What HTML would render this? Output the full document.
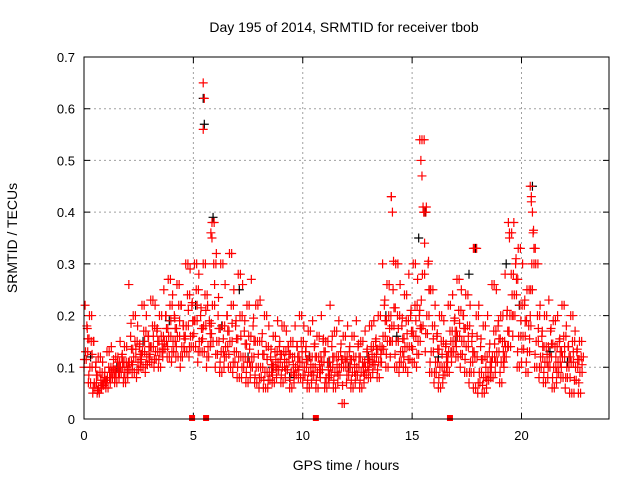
<!DOCTYPE html>
<html><head><meta charset="utf-8"><style>
body{margin:0;background:#fff}
svg{display:block;font-family:"Liberation Sans",sans-serif}
</style></head><body>
<svg id="chart" width="640" height="480" viewBox="0 0 640 480">
<rect width="640" height="480" fill="#fff"/>
<text x="344" y="32" font-size="14" text-anchor="middle" fill="#000">Day 195 of 2014, SRMTID for receiver tbob</text>
<text x="346" y="470" font-size="14" text-anchor="middle" fill="#000">GPS time / hours</text>
<text transform="translate(17,238) rotate(-90)" font-size="14" text-anchor="middle" fill="#000">SRMTID / TECUs</text>
<g id="grid"></g>
<g id="ticks"></g>
<g id="marks"></g>
<rect x="84" y="57" width="525" height="362" fill="none" stroke="#000" stroke-width="1"/>
</svg>
<script>
const xTicks=[0,5,10,15,20];
const yTicks=[0,0.1,0.2,0.3,0.4,0.5,0.6,0.7];
const yTickLabels=["0","0.1","0.2","0.3","0.4","0.5","0.6","0.7"];
const hours=[0,0.2,0.4,0.6,0.8,1,1.2,1.4,1.6,1.8,2,2.2,2.4,2.6,2.8,3,3.2,3.4,3.6,3.8,4,4.2,4.4,4.6,4.8,5,5.2,5.4,5.6,5.8,6,6.2,6.4,6.6,6.8,7,7.2,7.4,7.6,7.8,8,8.2,8.4,8.6,8.8,9,9.2,9.4,9.6,9.8,10,10.2,10.4,10.6,10.8,11,11.2,11.4,11.6,11.8,12,12.2,12.4,12.6,12.8,13,13.2,13.4,13.6,13.8,14,14.2,14.4,14.6,14.8,15,15.2,15.4,15.6,15.8,16,16.2,16.4,16.6,16.8,17,17.2,17.4,17.6,17.8,18,18.2,18.4,18.6,18.8,19,19.2,19.4,19.6,19.8,20,20.2,20.4,20.6,20.8,21,21.2,21.4,21.6,21.8,22,22.2,22.4,22.6];
const redHigh=[.22,.2,.15,.12,.11,.13,.14,.12,.15,.14,.26,.2,.18,.22,.2,.23,.22,.2,.25,.27,.24,.26,.22,.3,.29,.3,.28,.3,.22,.38,.32,.3,.26,.32,.25,.28,.26,.22,.27,.22,.23,.2,.18,.16,.19,.18,.17,.15,.18,.2,.18,.17,.19,.16,.2,.15,.22,.17,.19,.16,.18,.16,.19,.15,.17,.18,.19,.2,.3,.26,.43,.3,.26,.24,.28,.3,.27,.54,.41,.25,.22,.2,.19,.22,.24,.27,.25,.24,.22,.33,.22,.18,.2,.26,.25,.2,.28,.36,.38,.33,.3,.25,.43,.3,.22,.2,.23,.19,.2,.22,.18,.2,.17,.15];
const redMidHigh=[.18,.15,.1,.09,.08,.1,.1,.11,.12,.11,.16,.15,.14,.17,.16,.18,.17,.16,.2,.22,.2,.22,.18,.24,.22,.25,.2,.24,.19,.3,.2,.18,.2,.22,.18,.2,.17,.16,.18,.15,.15,.14,.12,.13,.14,.13,.14,.12,.14,.15,.13,.12,.14,.12,.15,.11,.14,.12,.13,.12,.13,.12,.14,.11,.13,.14,.15,.14,.22,.2,.25,.2,.18,.19,.2,.22,.2,.4,.3,.18,.16,.15,.14,.17,.19,.21,.2,.18,.15,.2,.14,.12,.13,.17,.18,.15,.2,.28,.3,.22,.22,.18,.36,.2,.16,.14,.17,.14,.15,.16,.14,.15,.13,.12];
const redMidLow=[.13,.1,.07,.06,.07,.08,.09,.09,.1,.09,.11,.12,.11,.13,.12,.14,.13,.13,.15,.16,.15,.16,.14,.18,.16,.19,.15,.18,.14,.22,.15,.13,.14,.15,.13,.12,.12,.11,.12,.1,.1,.09,.09,.1,.11,.1,.11,.09,.1,.11,.1,.09,.1,.09,.11,.08,.1,.09,.1,.1,.1,.09,.1,.09,.1,.11,.12,.11,.16,.15,.18,.15,.13,.14,.14,.16,.15,.28,.2,.13,.11,.1,.1,.13,.15,.16,.15,.14,.11,.12,.09,.08,.09,.12,.13,.11,.14,.2,.24,.16,.16,.13,.3,.15,.12,.11,.12,.1,.11,.12,.1,.11,.1,.09];
const redLow=[.1,.07,.05,.05,.06,.06,.07,.07,.08,.07,.08,.09,.08,.1,.09,.11,.1,.1,.12,.12,.11,.12,.1,.13,.12,.14,.11,.13,.1,.15,.1,.09,.1,.1,.09,.08,.08,.07,.08,.07,.06,.06,.06,.07,.08,.07,.08,.06,.07,.08,.07,.06,.07,.06,.08,.06,.07,.06,.07,.03,.07,.06,.07,.06,.07,.08,.09,.08,.11,.1,.12,.1,.09,.1,.09,.11,.1,.18,.13,.09,.07,.06,.07,.09,.11,.12,.1,.09,.07,.06,.05,.05,.06,.08,.09,.07,.1,.14,.16,.1,.11,.09,.2,.1,.08,.07,.08,.06,.07,.08,.06,.05,.05,.05];
const spikeHours=[5.45,5.5,5.45,5.8,5.85,14.05,14.1,15.35,15.4,15.45,15.5,15.55,17.8,19.4,19.45,20.4,20.45,20.5];
const spikeValues=[.65,.62,.56,.36,.35,.43,.4,.54,.5,.47,.41,.4,.33,.38,.35,.45,.42,.4];
const blackHours=[0.3,1.5,2.7,3.9,5.1,5.45,5.5,5.9,6.3,7.1,7.5,8.6,9.4,10.3,11.2,12.1,13.0,13.8,14.3,15.3,15.6,16.2,17.0,17.6,17.9,18.6,19.3,19.9,20.5,21.3,22.1];
const blackValues=[.12,.1,.15,.19,.22,.62,.57,.39,.18,.25,.12,.1,.08,.12,.11,.1,.12,.2,.16,.35,.4,.12,.15,.28,.33,.08,.3,.22,.45,.13,.11];
const zeroHours=[4.94,5.58,10.6,16.73];

const X0=84,X1=609,Y0=419,Y1=57,XMAX=24,YMAX=0.7;
const sx=h=>X0+h/XMAX*(X1-X0);
const sy=v=>Y0-v/YMAX*(Y0-Y1);
const NS="http://www.w3.org/2000/svg";
function mk(tag,attrs,parent){const e=document.createElementNS(NS,tag);for(const k in attrs)e.setAttribute(k,attrs[k]);parent.appendChild(e);return e;}
const grid=document.getElementById('grid'),ticks=document.getElementById('ticks'),marks=document.getElementById('marks');
xTicks.forEach((t,i)=>{
  const x=sx(t);
  if(t>0){const g=mk('line',{x1:x,x2:x,y1:Y1,y2:Y0,stroke:'#a0a0a0','stroke-dasharray':'2,3'},grid);
  
  }
  const tk=mk('path',{d:`M${x},${Y0}v-6M${x},${Y1}v6`,stroke:'#000'},ticks);
  
  
  const lb=mk('text',{x:x,y:Y0+21,'font-size':13,'text-anchor':'middle',fill:'#000'},ticks);
  lb.textContent=String(t);
  
  
});
yTicks.forEach((t,i)=>{
  const y=sy(t);
  if(t>0&&t<YMAX){const g=mk('line',{x1:X0,x2:X1,y1:y,y2:y,stroke:'#a0a0a0','stroke-dasharray':'2,3'},grid);
  
  }
  const tk=mk('path',{d:`M${X0},${y}h6M${X1},${y}h-6`,stroke:'#000'},ticks);
  
  
  const lb=mk('text',{x:X0-9,y:y+5,'font-size':13,'text-anchor':'end',fill:'#000'},ticks);
  lb.textContent=yTickLabels[i];
  
  
});
function plus(h,v,color,name){
  const x=sx(h),y=sy(v);
  const p=mk('path',{d:`M${x-4.5},${y}h9M${x},${y-4.5}v9`,stroke:color,'stroke-width':1.2,fill:'none'},marks);
  
  
}
blackHours.forEach((h,i)=>plus(h,blackValues[i],'#000','black-point'));
[[redLow,0],[redMidLow,0.07],[redMidHigh,0.13],[redHigh,0.05]].forEach(([arr,off])=>{
  hours.forEach((h,i)=>{
    plus(h+off,arr[i],'#f00','red-point');
    plus(h+off+0.1,(arr[i]+(i%2?arr[i]:redMidLow[i]))/2,'#f00','red-point');
  });
});
hours.forEach((h,i)=>{
  plus(h+0.17,(redMidLow[i]+redMidHigh[i])/2,'#f00','red-point');
  plus(h+0.02,(redLow[i]+redMidLow[i])/2,'#f00','red-point');
});
spikeHours.forEach((h,i)=>plus(h,spikeValues[i],'#f00','red-spike-point'));
zeroHours.forEach(h=>{
  const r=mk('rect',{x:sx(h)-3,y:Y0-4,width:6,height:6,fill:'#f00'},marks);
  
  
});
</script>
</body></html>
